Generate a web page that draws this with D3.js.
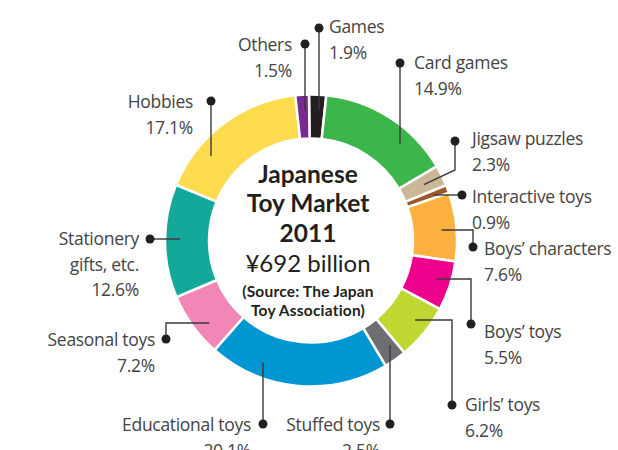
<!DOCTYPE html>
<html lang="en">
<head>
    <meta charset="UTF-8">
    <title>Japanese Toy Market 2011</title>
    <script src="https://d3js.org/d3.v7.min.js"></script>
    <style>
        body { margin: 0; background: white; }
        text { font-family: Lato, "Open Sans", sans-serif; }
        text.lbl { font-family: "Open Sans", "Noto Sans", sans-serif; }
    </style>
</head>
<body>
    <svg id="svg1" height="450" width="618" style="background: white"></svg>

    <script>
        // data ----------------------------------------------------------------
        const categories = ["Games", "Card games", "Jigsaw puzzles", "Interactive toys", "Boys\u2019 characters",
            "Boys\u2019 toys", "Girls\u2019 toys", "Stuffed toys", "Educational toys", "Seasonal toys",
            "Stationery\ngifts, etc.", "Hobbies", "Others"];
        const shares = [1.9, 14.9, 2.3, 0.9, 7.6, 5.5, 6.2, 2.5, 20.1, 7.2, 12.6, 17.1, 1.5];
        const colors = ["#231f20", "#3cb54a", "#c9b797", "#99592a", "#fbb040", "#ec008c", "#bfd730",
            "#6d6e71", "#0096d1", "#f287b7", "#14a89a", "#fddb4e", "#7a2a8f"];
        const titleLines = ["Japanese", "Toy Market", "2011"];
        const totalLine = "\u00a5692 billion";
        const sourceLines = ["(Source: The Japan", "Toy Association)"];

        // chart setup ---------------------------------------------------------
        const svg = d3.select("svg#svg1");
        const cx = 311, cy = 240.5;
        const outerR = 146, innerR = 102, leadR = 131;
        const startAngle = -0.8 * Math.PI / 180;

        const pie = d3.pie().sort(null)
            .startAngle(startAngle).endAngle(startAngle + 2 * Math.PI);
        const arcs = pie(shares);
        const arc = d3.arc().innerRadius(innerR).outerRadius(outerR);

        const chart = svg.append("g").attr("transform", `translate(${cx}, ${cy})`);

        chart.selectAll("path.slice")
            .data(arcs)
            .join("path")
            .attr("class", "slice")
            .attr("d", arc)
            .attr("fill", (d, i) => colors[i])
            .attr("stroke", "white")
            .attr("stroke-width", 2.5);

        // label layout (dot position, text side, leader route) -----------------
        const layout = [
            {dot: [319, 28], tx: 329, ty: 26, anchor: "start", route: "v"},
            {dot: [400, 63], tx: 414, ty: 62, anchor: "start", route: "v"},
            {dot: [455, 141], tx: 472, ty: 138, anchor: "start", route: "slice", elbow: 170},
            {dot: [462, 195], tx: 472, ty: 196, anchor: "start", route: "h"},
            {dot: [473, 247], tx: 484, ty: 248, anchor: "start", route: "vh", elbow: 230},
            {dot: [471, 324], tx: 484, ty: 331, anchor: "start", route: "vh", elbow: 279},
            {dot: [452, 405], tx: 465, ty: 404, anchor: "start", route: "vh", elbow: 320},
            {dot: [390, 424], tx: 380, ty: 424, anchor: "end", route: "v"},
            {dot: [263, 424], tx: 251, ty: 424, anchor: "end", route: "v"},
            {dot: [166, 339], tx: 155, ty: 339, anchor: "end", route: "vh", elbow: 323},
            {dot: [150, 239], tx: 139, ty: 238, anchor: "end", route: "h"},
            {dot: [211, 101], tx: 193, ty: 101, anchor: "end", route: "v"},
            {dot: [305, 44], tx: 292, ty: 44, anchor: "end", route: "v"}
        ];

        // point on the leader circle reached moving horizontally / vertically
        function hitH(x0, y0) {
            const dx = Math.sqrt(leadR * leadR - (y0 - cy) ** 2);
            return [x0 > cx ? cx + dx : cx - dx, y0];
        }
        function hitV(x0, y0) {
            const dy = Math.sqrt(leadR * leadR - (x0 - cx) ** 2);
            return [x0, y0 > cy ? cy + dy : cy - dy];
        }

        const labels = svg.append("g").attr("id", "labels");

        layout.forEach((l, i) => {
            const [x0, y0] = l.dot;
            let pts = [[x0, y0]];
            if (l.route === "v") pts.push(hitV(x0, y0));
            else if (l.route === "h") pts.push(hitH(x0, y0));
            else if (l.route === "vh") { pts.push([x0, l.elbow]); pts.push(hitH(x0, l.elbow)); }
            else if (l.route === "slice") {
                const a = (arcs[i].startAngle + arcs[i].endAngle) / 2;
                pts.push([x0, l.elbow]);
                pts.push([cx + (leadR - 5) * Math.sin(a), cy - (leadR - 5) * Math.cos(a)]);
            }
            labels.append("path")
                .attr("d", d3.line()(pts))
                .attr("fill", "none")
                .attr("stroke", "#3a3a3a")
                .attr("stroke-width", 1.4);
            labels.append("circle")
                .attr("cx", x0).attr("cy", y0).attr("r", 4.5)
                .attr("fill", "#231f20");

            const lines = categories[i].split("\n").concat([shares[i].toFixed(1) + "%"]);
            const t = labels.append("text")
                .attr("class", "lbl")
                .attr("x", l.tx)
                .attr("y", l.ty)
                .attr("text-anchor", l.anchor)
                .attr("dominant-baseline", "central")
                .attr("font-size", 17.5)
                .attr("letter-spacing", -0.3)
                .attr("fill", "#444");
            lines.forEach((s, j) => {
                t.append("tspan").attr("x", l.tx).attr("dy", j === 0 ? 0 : 25.5).text(s);
            });
        });

        // centre text ---------------------------------------------------------
        const centre = svg.append("g").attr("id", "centre").attr("text-anchor", "middle").attr("fill", "#231f20");
        titleLines.forEach((s, j) => {
            centre.append("text")
                .attr("x", 308).attr("y", 173 + j * 29.5)
                .attr("dominant-baseline", "central")
                .attr("font-size", 24.5).attr("font-weight", 700)
                .text(s);
        });
        centre.append("text")
            .attr("x", 308).attr("y", 262)
            .attr("dominant-baseline", "central")
            .attr("font-size", 24)
            .text(totalLine);
        sourceLines.forEach((s, j) => {
            centre.append("text")
                .attr("x", 308).attr("y", 291 + j * 18.5)
                .attr("dominant-baseline", "central")
                .attr("font-size", 15.5).attr("font-weight", 700)
                .attr("letter-spacing", 0.2)
                .text(s);
        });
    </script>
</body>
</html>
